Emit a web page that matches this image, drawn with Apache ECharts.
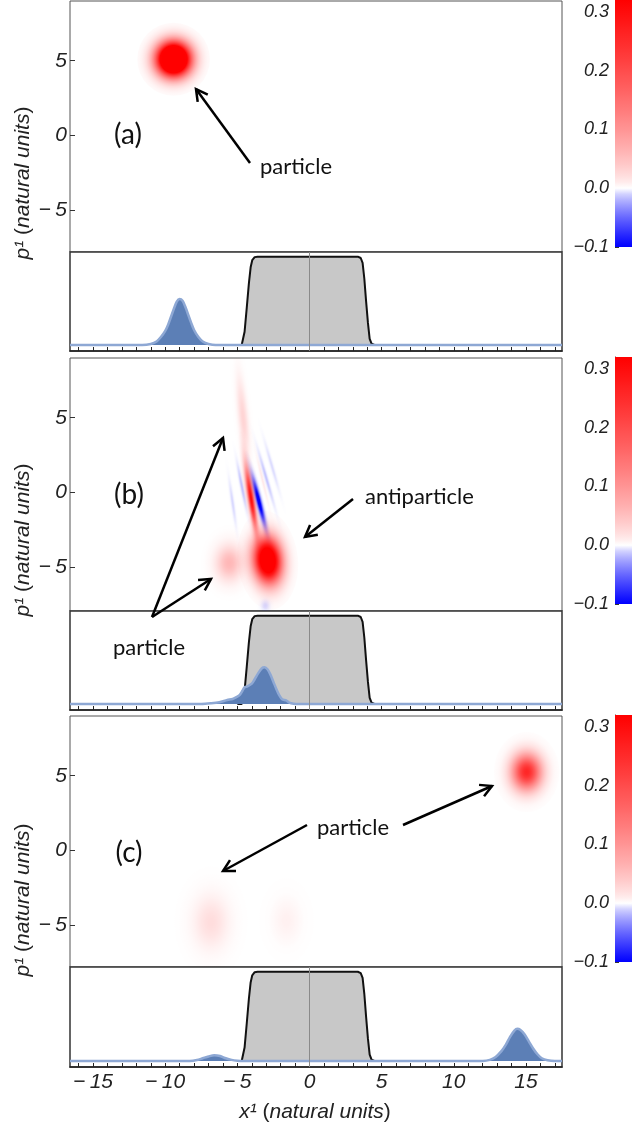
<!DOCTYPE html>
<html><head><meta charset="utf-8">
<script src="https://cdn.jsdelivr.net/npm/echarts@6/dist/echarts.min.js"></script>
<style>html,body{margin:0;padding:0;background:#fff}#c{width:632px;height:1127px}</style>
</head><body><div id="c"></div>
<script>
// ---------------- data ----------------
const xRange = [-16.6, 17.5];
const pMax = 9;
const pTicks = [-5, 0, 5];
const xMinorTicks = [-16,-15,-14,-13,-12,-11,-10,-9,-8,-7,-6,-5,-4,-3,-2,-1,0,1,2,3,4,5,6,7,8,9,10,11,12,13,14,15,16,17];
const xTickLabels = [-15, -10, -5, 0, 5, 10, 15];
const colorRange = [-0.1, 0.32];
const colorTicks = [-0.1, 0.0, 0.1, 0.2, 0.3];

// potential barrier (normalised height)
const barrier = [[-5.0,0],[-4.7,0],[-4.6,0.02],[-4.5,0.15],[-4.35,0.42],[-4.2,0.7],[-4.08,0.88],[-3.97,0.96],[-3.8,0.995],[-3.6,1],
  [3.35,1],[3.55,0.985],[3.68,0.93],[3.8,0.75],[3.92,0.5],[4.05,0.25],[4.17,0.07],[4.3,0.015],[4.5,0],[4.8,0]];

// densities |psi|^2 (same scale)
const densityA = [[-16.6,0],[-11.6,0],[-11,0.012],[-10.6,0.04],[-10.3,0.09],[-10,0.16],[-9.8,0.23],[-9.6,0.32],[-9.4,0.41],[-9.2,0.49],[-9,0.52],
  [-8.8,0.5],[-8.6,0.43],[-8.4,0.34],[-8.2,0.25],[-8,0.17],[-7.7,0.09],[-7.4,0.04],[-7,0.012],[-6.5,0],[17.5,0]];
const densityB = [[-16.6,0],[-7.5,0],[-6.8,0.008],[-6.25,0.02],[-5.7,0.045],[-5.33,0.057],[-5.05,0.08],[-4.85,0.1],[-4.65,0.15],[-4.5,0.19],
  [-4.3,0.2],[-4.0,0.23],[-3.8,0.28],[-3.55,0.35],[-3.3,0.405],[-3.12,0.415],[-2.9,0.39],[-2.7,0.33],[-2.5,0.25],[-2.3,0.17],[-2.1,0.1],
  [-1.9,0.055],[-1.62,0.04],[-1.4,0.015],[-1.1,0.003],[-0.8,0],[17.5,0]];
const densityC = [[-16.6,0],[-8.3,0],[-7.8,0.01],[-7.4,0.03],[-7.0,0.05],[-6.6,0.064],[-6.2,0.055],[-5.8,0.03],[-5.4,0.012],[-5.0,0.003],[-4.6,0],
  [12.0,0],[12.5,0.012],[12.9,0.045],[13.3,0.11],[13.6,0.18],[13.9,0.27],[14.2,0.34],[14.4,0.36],[14.6,0.35],[14.9,0.3],[15.2,0.22],
  [15.5,0.14],[15.8,0.075],[16.1,0.03],[16.5,0.008],[17,0],[17.5,0]];

// Wigner features: [x, p, sigmaX, sigmaP, tilt dx/dp, amplitude]
const wignerA = [[-9.42, 5.1, 0.72, 0.70, 0, 0.75]];
const wignerB = [
  [-5.56, -4.73, 0.57, 0.73, 0, 0.06],
  [-4.6, 5.0, 0.2, 1.6, -0.1, 0.03],
  [-4.69, 0.4, 0.07, 0.9, -0.2, -0.015],
  [-5.33, -0.69, 0.07, 0.9, -0.15, -0.008],
  [-3.0, 0.96, 0.07, 1.1, -0.3, -0.014],
  [-2.6, 1.74, 0.07, 1.0, -0.3, -0.007],
  [-3.26, 0.85, 0.06, 1.0, -0.25, 0.012],
  [-3.51, -0.6, 0.11, 1.0, -0.26, -0.12],
  [-4.05, -0.4, 0.14, 1.3, -0.16, 0.3],
  [-2.9, -4.55, 0.6, 0.95, -0.1, 0.5],
  [-3.06, -7.6, 0.18, 0.22, 0, -0.008]
];
const wignerC = [
  [15.05, 5.25, 0.65, 0.77, 0, 0.26],
  [-6.83, -4.8, 0.75, 1.1, 0, 0.022],
  [-1.6, -4.7, 0.6, 0.9, 0, 0.007]
];

// ---------------- styling helpers ----------------
const G = 0.75, K = 3.5;
function alphaOf(v){ return v >= 0 ? Math.min(1, Math.pow(v / 0.32, G)) : Math.min(1, Math.pow(-v / 0.1, G)); }
function cmapRGBA(v){ const a = alphaOf(v).toFixed(3); return v >= 0 ? 'rgba(255,0,0,' + a + ')' : 'rgba(0,0,255,' + a + ')'; }
function cmapSolid(v){ const a = alphaOf(v); const w = Math.round(255 * (1 - a)); return v >= 0 ? 'rgb(255,' + w + ',' + w + ')' : 'rgb(' + w + ',' + w + ',255)'; }
function blobStops(amp){ const s = []; for (let i = 0; i <= 16; i++){ const t = i / 16, r = K * t; s.push({offset: t, color: cmapRGBA(amp * Math.exp(-r * r / 2))}); } return s; }
const cbStops = []; for (let i = 0; i <= 42; i++){ const v = colorRange[0] + i * (colorRange[1] - colorRange[0]) / 42; cbStops.push({offset: i / 42, color: cmapSolid(v)}); }

function renderBlob(params, api){
  const c = api.coord([api.value(0), api.value(1)]);
  const sz = api.size([api.value(2), api.value(3)]);
  const unit = api.size([1, 1]);
  const rx = K * sz[0], ry = K * sz[1];
  const rot = -Math.atan(api.value(4) * unit[0] / unit[1]);
  return {type: 'circle', x: c[0], y: c[1], rotation: rot, scaleX: 1, scaleY: ry / rx,
    shape: {cx: 0, cy: 0, r: rx}, style: {fill: {type: 'radial', x: 0.5, y: 0.5, r: 0.5, colorStops: blobStops(api.value(5))}}};
}
function renderBar(params, api){
  const lo = api.coord([0, api.value(1)]), hi = api.coord([1, api.value(2)]);
  return {type: 'rect', shape: {x: lo[0], y: hi[1], width: hi[0] - lo[0], height: lo[1] - hi[1]},
    style: {fill: {type: 'linear', x: 0, y: 1, x2: 0, y2: 0, colorStops: cbStops}}};
}
const minus = v => (v < 0 ? '\u2212\u2009' : '') + Math.abs(v);
const tickFont = {fontFamily: 'Liberation Sans', fontStyle: 'italic', color: '#222'};

// layout
const heatGrids = [{top: 1, height: 251, pMin: -7.81}, {top: 358, height: 253, pMin: -7.95}, {top: 716, height: 251, pMin: -7.81}];
const lowGrids = [{top: 252, height: 99}, {top: 611, height: 99}, {top: 967, height: 100}];
const cbGrids = [{top: 0, height: 247}, {top: 357, height: 247}, {top: 715, height: 247}];
const wigners = [wignerA, wignerB, wignerC];
const densities = [densityA, densityB, densityC];

const grid = [], xAxis = [], yAxis = [], series = [];
for (let k = 0; k < 3; k++){
  // heat map panel
  let gi = grid.length;
  grid.push({left: 70, width: 492, top: heatGrids[k].top, height: heatGrids[k].height, show: true, borderColor: '#555', borderWidth: 1, backgroundColor: 'transparent'});
  xAxis.push({gridIndex: gi, type: 'value', min: xRange[0], max: xRange[1], show: false});
  yAxis.push({gridIndex: gi, type: 'value', position: 'left', min: heatGrids[k].pMin, max: pMax, axisLine: {show: false, onZero: false}, splitLine: {show: false},
    axisTick: {show: true, inside: true, length: 5, customValues: pTicks, lineStyle: {color: '#333'}},
    axisLabel: Object.assign({customValues: pTicks, fontSize: 21, margin: 3, formatter: minus}, tickFont)});
  series.push({type: 'custom', xAxisIndex: gi, yAxisIndex: gi, data: wigners[k], renderItem: renderBlob, clip: true, silent: true,
    encode: {x: 0, y: 1}});
  // lower panel
  gi = grid.length;
  grid.push({left: 70, width: 492, top: lowGrids[k].top, height: lowGrids[k].height, show: true, borderColor: '#333', borderWidth: 1.5, backgroundColor: '#fff'});
  xAxis.push({gridIndex: gi, type: 'value', min: xRange[0], max: xRange[1], splitLine: {show: false},
    axisLine: {show: true, onZero: false, lineStyle: {color: '#222', width: 1.5}},
    axisTick: {show: true, inside: true, length: 4, customValues: xMinorTicks, lineStyle: {color: '#222'}},
    axisLabel: Object.assign({show: k === 2, customValues: xTickLabels, fontSize: 21, margin: 5, formatter: minus}, tickFont)});
  yAxis.push({gridIndex: gi, type: 'value', min: -0.068, max: 1.053, show: false});
  series.push({type: 'line', xAxisIndex: gi, yAxisIndex: gi, data: barrier, symbol: 'none', silent: true, z: 2,
    lineStyle: {color: '#111', width: 2}, areaStyle: {color: '#c8c8c8', opacity: 1},
    markLine: {silent: true, symbol: ['none', 'none'], label: {show: false}, lineStyle: {color: '#8a8a8a', width: 1, type: 'solid'}, data: [{xAxis: 0}]}});
  series.push({type: 'line', xAxisIndex: gi, yAxisIndex: gi, data: densities[k], symbol: 'none', silent: true, z: 3, smooth: 0.3,
    lineStyle: {color: '#8ea8d4', width: 2.5}, areaStyle: {color: '#5c7fb6', opacity: 1}});
}
for (let k = 0; k < 3; k++){
  const gi = grid.length;
  grid.push({left: 615, width: 20, top: cbGrids[k].top, height: cbGrids[k].height, show: false});
  xAxis.push({gridIndex: gi, type: 'value', min: 0, max: 1, show: false});
  yAxis.push({gridIndex: gi, type: 'value', min: colorRange[0], max: colorRange[1], splitLine: {show: false},
    axisLine: {show: true, onZero: false, lineStyle: {color: '#333', width: 1}},
    axisTick: {show: true, inside: true, length: 4, customValues: colorTicks, lineStyle: {color: '#333'}},
    axisLabel: Object.assign({customValues: colorTicks, fontSize: 18, margin: 6, formatter: v => (v < 0 ? '\u2212' : '') + Math.abs(v).toFixed(1)}, tickFont)});
  series.push({type: 'custom', xAxisIndex: gi, yAxisIndex: gi, data: [[0, colorRange[0], colorRange[1]]], renderItem: renderBar, silent: true,
    encode: {x: 0, y: [1, 2]}, z: 1});
}

// annotations
const annFont = 'Lato';
function arrow(x1, y1, x2, y2){
  const a = Math.atan2(y2 - y1, x2 - x1), L = 13, s = 0.5;
  return [
    {type: 'line', z: 100, shape: {x1, y1, x2, y2}, style: {stroke: '#000', lineWidth: 2.5}},
    {type: 'polyline', z: 100, shape: {points: [[x2 - L * Math.cos(a - s), y2 - L * Math.sin(a - s)], [x2, y2], [x2 - L * Math.cos(a + s), y2 - L * Math.sin(a + s)]]},
      style: {stroke: '#000', lineWidth: 2.5, fill: null}}
  ];
}
function label(text, x, y, size, align){
  return {type: 'text', z: 100, x, y, style: {text, fontFamily: annFont, fontSize: size, fill: '#111', align: align || 'left', verticalAlign: 'middle'}};
}
const axisRich = {i: {fontFamily: 'Liberation Sans', fontStyle: 'italic', fontSize: 21, fill: '#222'}, n: {fontFamily: 'Liberation Sans', fontSize: 21, fill: '#222'}};
function ytitle(y){
  return {type: 'text', z: 100, x: 23, y, rotation: Math.PI / 2, style: {text: '{i|p\u00b9 }{n|(}{i|natural units}{n|)}', rich: axisRich, align: 'center', verticalAlign: 'middle'}};
}
const graphic = [].concat(
  label('(a)', 128, 135, 28, 'center'), label('particle', 260, 167, 22), arrow(250, 163, 196, 89),
  label('(b)', 129, 495, 28, 'center'), label('particle', 113, 648, 22), label('antiparticle', 365, 497, 22),
  arrow(152, 617, 223, 438), arrow(152, 617, 211, 579), arrow(353, 499, 305, 537),
  label('(c)', 129, 853, 28, 'center'), label('particle', 317, 828, 22),
  arrow(307, 825, 223, 871), arrow(403, 825, 492, 786),
  ytitle(183), ytitle(540), ytitle(900),
  [{type: 'text', z: 100, x: 315, y: 1112, style: {text: '{i|x\u00b9 }{n|(}{i|natural units}{n|)}', rich: axisRich, align: 'center', verticalAlign: 'middle'}}]
);

const chart = echarts.init(document.getElementById('c'), null, {renderer: 'canvas'});
chart.setOption({animation: false, backgroundColor: '#fff', grid, xAxis, yAxis, series, graphic});
</script></body></html>
